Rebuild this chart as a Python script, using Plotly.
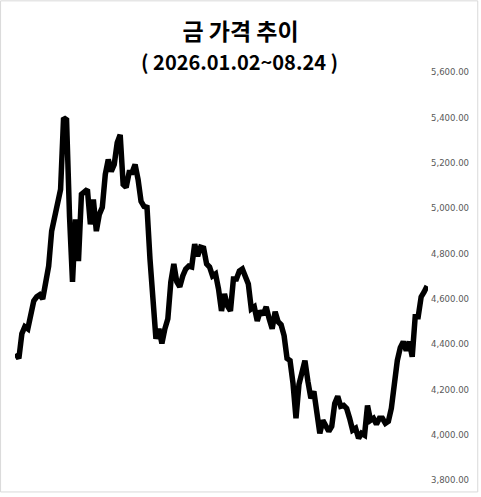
import plotly.graph_objects as go

title_main = "금 가격 추이"
title_sub = "( 2026.01.02~08.24 )"

prices = [
    4358, 4336, 4445, 4476, 4467, 4533, 4590, 4608, 4617, 4599,
    4665, 4744, 4898, 4959, 4994, 5082, 5398, 5389, 4963, 4674,
    4950, 4766, 5060, 5069, 5082, 4928, 5038, 4898, 4972, 5003,
    5148, 5214, 5161, 5192, 5288, 5323, 5104, 5091, 5157, 5157,
    5192, 5126, 5029, 5007, 5003, 4775, 4568, 4423, 4467, 4402,
    4467, 4511, 4674, 4753, 4674, 4652, 4700, 4731, 4744, 4740,
    4841, 4788, 4827, 4823, 4753, 4740, 4700, 4709, 4643, 4546,
    4621, 4568, 4546, 4687, 4687, 4722, 4731, 4700, 4665, 4555,
    4564, 4502, 4546, 4529, 4564, 4511, 4467, 4542, 4498, 4485,
    4437, 4336, 4327, 4226, 4072, 4222, 4270, 4327, 4235, 4160,
    4191, 4107, 4006, 4063, 4037, 4015, 4037, 4138, 4169, 4125,
    4129, 4116, 4072, 4020, 4028, 3984, 4006, 3998, 4129, 4063,
    4072, 4046, 4072, 4072, 4050, 4059, 4116, 4248, 4327, 4384,
    4410, 4371, 4410, 4344, 4520, 4520, 4608, 4630, 4656,
]
idx = list(range(len(prices)))
y_ticks = [3800, 4000, 4200, 4400, 4600, 4800, 5000, 5200, 5400, 5600]

W, H = 481, 497
ML, MR, MT, MB = 15, 51, 72, 15
PW, PH = W - ML - MR, H - MT - MB

fig = go.Figure()
fig.add_trace(go.Scatter(
    x=idx, y=prices, mode="lines",
    line=dict(color="#000000", width=5.5, shape="linear"),
    hoverinfo="skip", showlegend=False,
))

fig.update_layout(
    width=W, height=H,
    margin=dict(l=ML, r=MR, t=MT, b=MB, pad=0),
    paper_bgcolor="white", plot_bgcolor="white",
    font=dict(family="Noto Sans CJK KR, Noto Sans, sans-serif"),
    title=dict(
        text="<b>" + title_main + "</b>",
        x=0.5, xref="container", xanchor="center",
        y=1 - 32 / H, yref="container", yanchor="middle",
        font=dict(size=23, color="#000000", family="Noto Sans CJK KR"),
    ),
    xaxis=dict(
        visible=False, range=[-0.3, len(prices) - 0.7],
        showgrid=False, zeroline=False,
    ),
    yaxis=dict(
        side="right", range=[3800, 5600],
        tickvals=y_ticks, tickformat=",.2f",
        showgrid=False, zeroline=False, showline=False,
        ticks="", ticklabelstandoff=2,
        tickfont=dict(size=9.5, color="#595959",
                      family="Liberation Sans Narrow, DejaVu Sans Condensed, sans-serif"),
    ),
    annotations=[dict(
        text="<b>" + title_sub + "</b>",
        xref="paper", yref="paper",
        x=(W / 2 - ML) / PW, y=1 + (MT - 61) / PH,
        xanchor="center", yanchor="middle", showarrow=False,
        font=dict(size=20, color="#000000", family="Noto Sans CJK KR"),
    )],
    shapes=[dict(
        type="rect", xref="paper", yref="paper",
        x0=(0.5 - ML) / PW, x1=(480 - ML) / PW,
        y0=1 + (MT - 494) / PH, y1=1 + (MT - 0.5) / PH,
        line=dict(color="#D9D9D9", width=1), fillcolor="rgba(0,0,0,0)",
        layer="below",
    )],
)

fig.write_html(
    "out.html",
    config={"displayModeBar": False},
    post_script="document.body.style.margin='0';document.body.style.padding='0';",
)
